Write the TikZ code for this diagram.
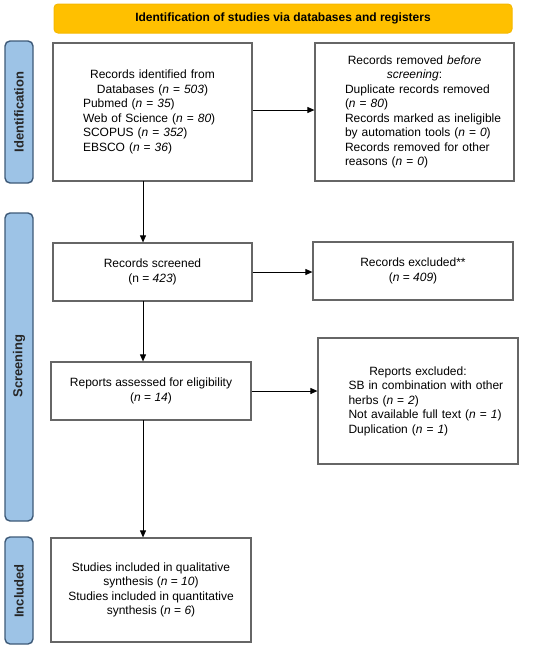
\documentclass[tikz,border=0pt]{standalone}
\usepackage{fontspec}
\setmainfont{Liberation Sans}
\usetikzlibrary{arrows.meta}
\definecolor{boxgray}{HTML}{666666}
\definecolor{sidefill}{HTML}{9DC3E6}
\definecolor{sidedraw}{HTML}{3E5A78}
\definecolor{headfill}{HTML}{FFC000}
\definecolor{headdraw}{HTML}{F5B800}
\begin{document}
\begin{tikzpicture}[x=1pt,y=-1pt,
  font=\fontsize{12}{14.5}\selectfont,
  box/.style={draw=boxgray, line width=1.2pt, fill=white, inner sep=0pt},
  sidebox/.style={draw=sidedraw, line width=1.4pt, fill=sidefill, rounded corners=5pt},
  sidetext/.style={rotate=90, font=\fontsize{13}{15}\selectfont\bfseries, text=black!85},
  arr/.style={draw=black, line width=0.9pt, -{Triangle[length=7pt,width=6pt]}},
  txt/.style={inner sep=0pt, text width=199pt}
]
\useasboundingbox (0,0) rectangle (550,648);
% header
\node[draw=headdraw, line width=1pt, fill=headfill, rounded corners=4pt, minimum width=458pt, minimum height=29pt, font=\fontsize{12}{14.5}\selectfont\bfseries] (head) at (283,18.5) {Identification of studies via databases and registers};
% side labels
\draw[sidebox] (5,41) rectangle (33,183);
\node[sidetext] (sid) at (19,112) {Identification};
\draw[sidebox] (5,213) rectangle (33,521);
\node[sidetext] (sscr) at (19,366) {Screening};
\draw[sidebox] (5,537) rectangle (33,644);
\node[sidetext] (sinc) at (19,591) {Included};
% boxes
\node[box, minimum width=199pt, minimum height=138pt] (b1) at (152.5,112) {};
\node[txt] (t1) at (b1.center) {{\centering Records identified from\\ Databases (\textit{n} = \textit{503})\par}
{\raggedright\leftskip=30pt Pubmed (\textit{n} = \textit{35})\\ Web of Science (\textit{n} = \textit{80})\\ SCOPUS (\textit{n} = \textit{352})\\ EBSCO (\textit{n} = \textit{36})\par}};
\node[box, minimum width=199pt, minimum height=138pt] (b2) at (414.5,112) {};
\node[txt] (t2) at (b2.center) {{\centering Records removed \textit{before}\\ \textit{screening}:\par}
{\raggedright\leftskip=30pt Duplicate records removed\\ (\textit{n} = \textit{80})\\ Records marked as ineligible\\ by automation tools (\textit{n} = \textit{0})\\ Records removed for other\\ reasons (\textit{n} = \textit{0})\par}};
\node[box, minimum width=199pt, minimum height=58pt, align=center] (b3) at (152.5,272) {Records screened\\ (n = \textit{423})};
\node[box, minimum width=200pt, minimum height=58pt, align=center] (b4) at (413,271) {Records excluded**\\ (\textit{n} = \textit{409})};
\node[box, minimum width=200pt, minimum height=58pt, align=center] (b5) at (151,391) {Reports assessed for eligibility\\ (\textit{n} = \textit{14})};
\node[box, minimum width=200pt, minimum height=126pt] (b6) at (418,401) {};
\node[txt] (t6) at (b6.center) {{\centering Reports excluded:\par}
{\raggedright\leftskip=30pt SB in combination with other\\ herbs (\textit{n} = \textit{2})\\ Not available full text (\textit{n} = \textit{1})\\ Duplication (\textit{n} = \textit{1})\par}};
\node[box, minimum width=200pt, minimum height=104pt, align=center] (b7) at (151,590) {Studies included in qualitative\\ synthesis (\textit{n} = \textit{10})\\ Studies included in quantitative\\ synthesis (\textit{n} = \textit{6})};
% arrows
\draw[arr] (b1.east |- 0,110) -- (b2.west |- 0,110);
\draw[arr] (143,181) -- (b3.north -| 143,0);
\draw[arr] (b3.east) -- (b4.west |- b3.east);
\draw[arr] (143,301) -- (b5.north -| 143,0);
\draw[arr] (b5.east) -- (b6.west |- b5.east);
\draw[arr] (143,420) -- (b7.north -| 143,0);
\end{tikzpicture}
\end{document}
